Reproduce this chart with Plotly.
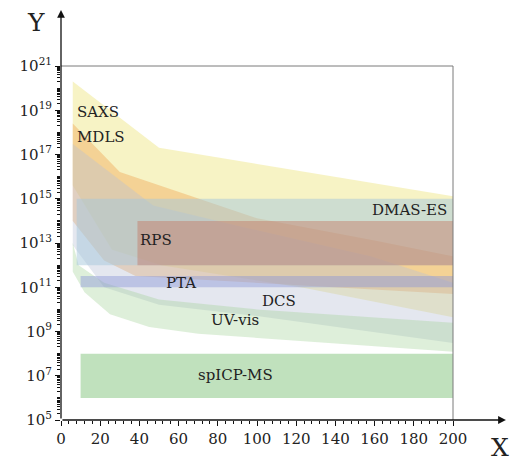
import math
import plotly.graph_objects as go

# Working ranges of particle-number-concentration techniques:
# particle size (nm) on x, number concentration on y (log scale).

# SAXS
saxs_x_hi = [6, 50, 200]
saxs_hi = [2.0e20, 2.0e17, 1.3e15]
saxs_x_lo = [6, 26, 51, 125, 200]
saxs_lo = [4.0e15, 5.0e12, 1.0e12, 9.0e10, 4.4e9]

# MDLS
mdls_x_hi = [6, 30, 100, 160, 200]
mdls_hi = [2.5e18, 1.6e16, 1.3e14, 1.3e13, 2.5e12]
mdls_x_lo = [6, 22, 38, 200]
mdls_lo = [1.0e14, 1.6e12, 3.2e11, 5.0e10]

# DCS
dcs_x_hi = [6, 47, 90, 158, 200]
dcs_hi = [3.0e17, 5.0e14, 6.0e13, 2.5e12, 1.6e11]
dcs_x_lo = [6, 22, 50, 100, 200]
dcs_lo = [8.0e12, 1.0e11, 1.6e10, 5.0e9, 3.0e8]

# UV-vis
uv_x_hi = [6, 9, 22, 50, 100, 200]
uv_hi = [1.0e13, 1.0e12, 1.6e11, 2.8e10, 1.0e10, 2.5e9]
uv_x_lo = [6, 12, 25, 45, 70, 100, 200]
uv_lo = [5.0e11, 6.0e10, 6.0e9, 1.6e9, 8.0e8, 5.0e8, 1.2e8]

# rectangular ranges: [size min, size max], [conc min, conc max]
dmas_x = [8, 200]
dmas_y = [1.0e12, 1.0e15]
rps_x = [39, 200]
rps_y = [1.0e12, 1.0e14]
pta_x = [10, 200]
pta_y = [1.0e11, 3.2e11]
spicp_x = [10, 200]
spicp_y = [1.0e6, 1.0e8]

x_ticks = list(range(0, 201, 20))
y_exponents = list(range(5, 22, 2))
y_ticks = [10.0 ** e for e in y_exponents]
y_ticktext = ["10<sup>%d</sup>" % e for e in y_exponents]

FONT = "DejaVu Serif"
TXT = "#222222"

fig = go.Figure()


def band(xh, yh, xl, yl, color):
    xs = list(xh) + list(reversed(xl)) + [xh[0]]
    ys = list(yh) + list(reversed(yl)) + [yh[0]]
    fig.add_trace(go.Scatter(x=xs, y=ys, mode="lines", fill="toself",
                             fillcolor=color, line=dict(width=0),
                             hoverinfo="skip", showlegend=False))


def rect(xr, yr, color):
    xs = [xr[0], xr[1], xr[1], xr[0], xr[0]]
    ys = [yr[0], yr[0], yr[1], yr[1], yr[0]]
    fig.add_trace(go.Scatter(x=xs, y=ys, mode="lines", fill="toself",
                             fillcolor=color, line=dict(width=0),
                             hoverinfo="skip", showlegend=False))


band(saxs_x_hi, saxs_hi, saxs_x_lo, saxs_lo, "rgba(240,232,140,0.5)")
band(mdls_x_hi, mdls_hi, mdls_x_lo, mdls_lo, "rgba(240,170,90,0.45)")
band(dcs_x_hi, dcs_hi, dcs_x_lo, dcs_lo, "rgba(185,192,212,0.38)")
band(uv_x_hi, uv_hi, uv_x_lo, uv_lo, "rgba(160,210,150,0.35)")
rect(dmas_x, dmas_y, "rgba(165,200,220,0.5)")
rect(rps_x, rps_y, "rgba(195,120,100,0.45)")
rect(pta_x, pta_y, "rgba(140,150,215,0.45)")
rect(spicp_x, spicp_y, "rgba(150,205,145,0.6)")

labels = [
    ("SAXS", 7, 8.0e18, "left"),
    ("MDLS", 7, 6.3e17, "left"),
    ("DMAS-ES", 198, 3.2e14, "right"),
    ("RPS", 39.5, 1.3e13, "left"),
    ("PTA", 61, 1.6e11, "center"),
    ("DCS", 111, 2.5e10, "center"),
    ("UV-vis", 89, 3.2e9, "center"),
    ("spICP-MS", 89, 1.1e7, "center"),
]
for text, lx, ly, anchor in labels:
    fig.add_annotation(x=lx, y=math.log10(ly), text=text, showarrow=False,
                       xanchor=anchor, yanchor="middle",
                       font=dict(family=FONT, size=15, color=TXT))

# frame on top and right
fig.add_shape(type="line", xref="paper", yref="paper", x0=0, x1=1, y0=1, y1=1,
              line=dict(color="#7a7a7a", width=1))
fig.add_shape(type="line", xref="paper", yref="paper", x0=1, x1=1, y0=0, y1=1,
              line=dict(color="#7a7a7a", width=1))

# axes with arrowheads
fig.add_annotation(xref="paper", yref="paper", x=0, y=1.158, ax=0, ay=410,
                   text="", showarrow=True, arrowhead=2, arrowsize=1.2,
                   arrowwidth=1.3, arrowcolor="#111", standoff=0, startstandoff=0)
fig.add_annotation(xref="paper", yref="paper", x=1.135, y=0, ax=-445, ay=0,
                   text="", showarrow=True, arrowhead=2, arrowsize=1.2,
                   arrowwidth=1.3, arrowcolor="#111", standoff=0, startstandoff=0)

fig.add_annotation(xref="paper", yref="paper", x=-0.064, y=1.124, text="Y",
                   xanchor="center", yanchor="middle", showarrow=False,
                   font=dict(family=FONT, size=25, color=TXT))
fig.add_annotation(xref="paper", yref="paper", x=1.12, y=-0.077, text="X",
                   xanchor="center", yanchor="middle", showarrow=False,
                   font=dict(family=FONT, size=25, color=TXT))

fig.update_layout(
    width=514, height=464,
    margin=dict(l=61, r=61, t=66, b=44, autoexpand=False),
    paper_bgcolor="white", plot_bgcolor="white",
    showlegend=False,
    xaxis=dict(range=[0, 200], tickvals=x_ticks, ticks="outside", ticklen=5,
               tickcolor="#111", showgrid=False, zeroline=False, showline=False,
               automargin=False,
               tickfont=dict(family=FONT, size=15, color=TXT),
               minor=dict(dtick=4, ticks="outside", ticklen=3, tickcolor="#111",
                          showgrid=False)),
    yaxis=dict(type="log", range=[5, 21], tickvals=y_ticks, ticktext=y_ticktext,
               ticks="outside", ticklen=5, tickcolor="#111", showgrid=False,
               zeroline=False, showline=False, automargin=False,
               tickfont=dict(family=FONT, size=15, color=TXT),
               minor=dict(ticks="outside", ticklen=3, tickcolor="#111",
                          showgrid=False, dtick="D1")),
)

fig.write_html("out.html")
